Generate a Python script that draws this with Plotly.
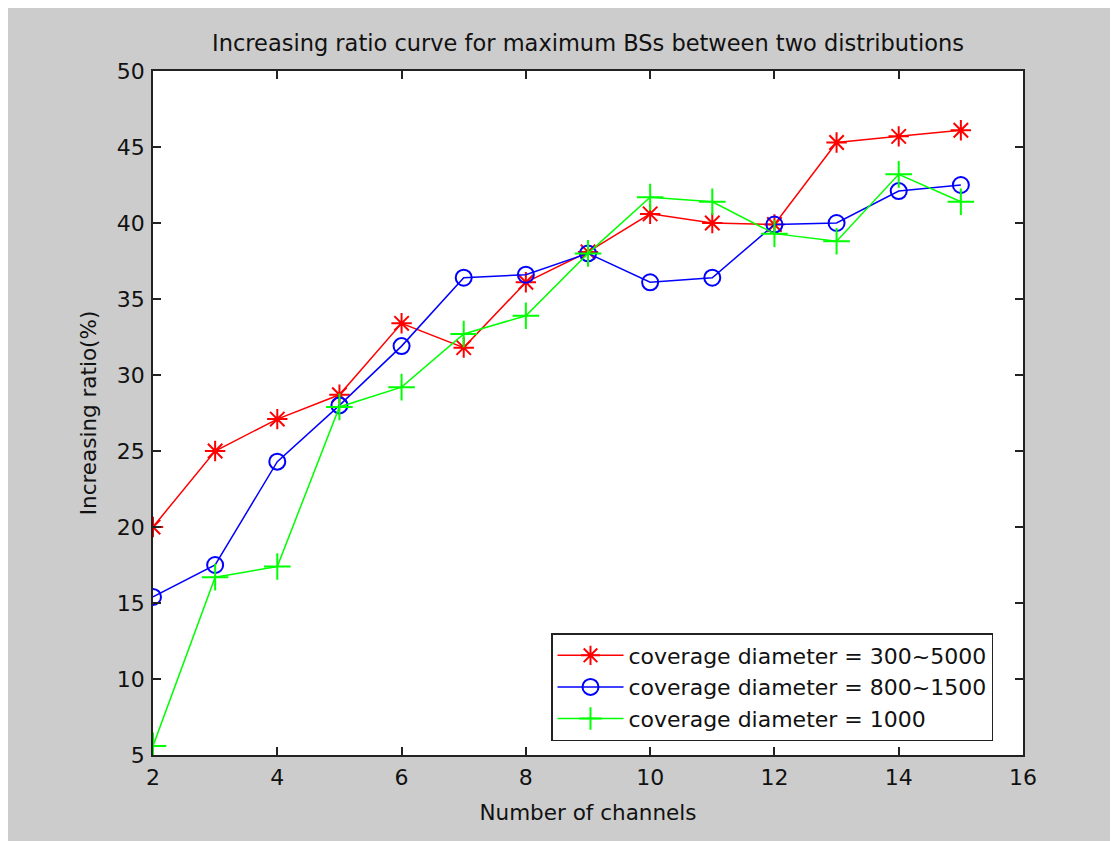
import plotly.graph_objects as go

channels = [2, 3, 4, 5, 6, 7, 8, 9, 10, 11, 12, 13, 14, 15]
ratio_300_5000 = [20.0, 25.0, 27.1, 28.7, 33.4, 31.8, 36.1, 38.1, 40.6, 40.0, 39.9, 45.3, 45.7, 46.1]
ratio_800_1500 = [15.4, 17.5, 24.3, 28.0, 31.9, 36.4, 36.6, 38.0, 36.1, 36.4, 39.9, 40.0, 42.1, 42.5]
ratio_1000 = [5.6, 16.7, 17.4, 27.9, 29.2, 32.7, 33.9, 38.0, 41.7, 41.4, 39.3, 38.8, 43.2, 41.4]

names = ["coverage diameter = 300~5000", "coverage diameter = 800~1500", "coverage diameter = 1000"]
x_ticks = [2, 4, 6, 8, 10, 12, 14, 16]
y_ticks = [5, 10, 15, 20, 25, 30, 35, 40, 45, 50]

FONT = "DejaVu Sans, Liberation Sans, Arial, sans-serif"
TXT = "#111111"

fig = go.Figure()
fig.add_trace(go.Scatter(x=channels, y=ratio_300_5000, mode="lines+markers", name=names[0],
                         line=dict(color="#ff0000", width=1.5),
                         marker=dict(symbol="asterisk-open", size=17, line=dict(color="#ff0000", width=2))))
fig.add_trace(go.Scatter(x=channels, y=ratio_800_1500, mode="lines+markers", name=names[1],
                         line=dict(color="#0000ff", width=1.5),
                         marker=dict(symbol="circle-open", size=16, color="#0000ff", line=dict(color="#0000ff", width=2))))
fig.add_trace(go.Scatter(x=channels, y=ratio_1000, mode="lines+markers", name=names[2],
                         line=dict(color="#00ff00", width=1.5),
                         marker=dict(symbol="cross-thin-open", size=19, line=dict(color="#00ff00", width=2))))

# page body adds 8px on top/left, so the figure is laid out relative to that offset
W, H = 1118, 841
L, T = 145, 63
R = W - 1015
B = H - 747
pw, ph = W - L - R, H - T - B

axis_common = dict(showline=True, linecolor="#222222", linewidth=1.5, mirror="ticks",
                   ticks="inside", ticklen=8, tickcolor="#222222", tickwidth=1.5,
                   showgrid=False, zeroline=False, ticklabelstandoff=2,
                   tickfont=dict(family=FONT, size=22, color=TXT))

fig.update_layout(
    width=W, height=H,
    margin=dict(l=L, r=R, t=T, b=B, autoexpand=False),
    paper_bgcolor="#cccccc", plot_bgcolor="#ffffff",
    font=dict(family=FONT, size=22, color=TXT),
    title=dict(text="Increasing ratio curve for maximum BSs between two distributions",
               x=0.5, xref="paper", xanchor="center",
               y=1 - 35 / H, yref="container", yanchor="middle",
               font=dict(family=FONT, size=22.5, color=TXT)),
    xaxis=dict(range=[2, 16], tickvals=x_ticks, ticktext=[str(v) for v in x_ticks],
               title=dict(text="Number of channels", standoff=16,
                          font=dict(family=FONT, size=21.5, color=TXT)),
               **axis_common),
    yaxis=dict(range=[5, 50], tickvals=y_ticks, ticktext=[str(v) for v in y_ticks],
               title=dict(text="Increasing ratio(%)", standoff=14,
                          font=dict(family=FONT, size=21.5, color=TXT)),
               **axis_common),
    legend=dict(x=(543 - L) / pw, y=(747 - 625) / ph, xanchor="left", yanchor="top",
                bgcolor="#ffffff", bordercolor="#222222", borderwidth=1.5,
                font=dict(family=FONT, size=22, color=TXT),
                itemwidth=66),
    showlegend=True,
)

fig.write_html("out.html", post_script="document.body.style.overflow='hidden';")
